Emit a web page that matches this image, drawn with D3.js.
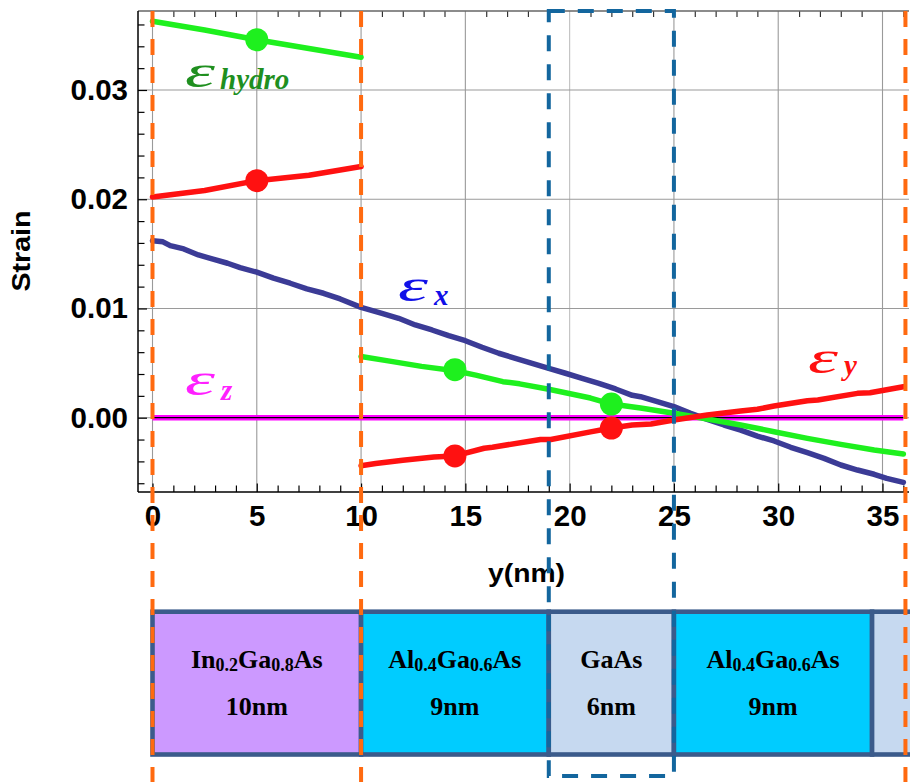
<!DOCTYPE html>
<html><head><meta charset="utf-8">
<script src="https://cdn.jsdelivr.net/npm/d3@7"></script>
<style>
body{margin:0;background:#fff}
svg{display:block}
</style></head>
<body><svg id="chart" width="910" height="782"></svg>
<script>
// ---------------- data ----------------
const xTickValues = [0, 5, 10, 15, 20, 25, 30, 35];
const xTickLabels = ["0", "5", "10", "15", "20", "25", "30", "35"];
const yTickValues = [0, 0.01, 0.02, 0.03];
const yTickLabels = ["0.00", "0.01", "0.02", "0.03"];

const epsX = [[0,0.0162],[0.5,0.0161],[0.85,0.01575],[1.5,0.01545],[2.2,0.0149],[2.9,0.01451],[3.6,0.01414],[4.2,0.01374],[5.0,0.01332],[5.8,0.01277],[6.6,0.01231],[7.4,0.01179],[8.2,0.01139],[9.0,0.01087],[10.0,0.0101],[11.0,0.00956],[11.8,0.0091],[12.6,0.00849],[13.4,0.00803],[14.2,0.00751],[15.0,0.00705],[15.8,0.00645],[16.6,0.0059],[17.4,0.00544],[18.2,0.00498],[19.0,0.00452],[19.8,0.00407],[20.6,0.00361],[21.4,0.00315],[22.2,0.00263],[23.0,0.00205],[23.4,0.00192],[24.2,0.00147],[25.0,0.00101],[25.8,0.0004],[26.6,-0.00015],[27.4,-0.00067],[28.2,-0.00113],[29.0,-0.00168],[29.8,-0.00213],[30.6,-0.00271],[31.4,-0.0032],[32.2,-0.00372],[33.0,-0.00433],[33.8,-0.00479],[34.6,-0.00518],[35.2,-0.00555],[36.0,-0.00592]];

const hydroWell = [[0,0.0363],[2.5,0.0355],[5,0.0346],[7.5,0.0338],[10,0.0330]];
const hydroBarrier = [[10,0.0056],[11.3,0.0052],[12.9,0.0047],[14.5,0.0043],[15.5,0.0039],[16.8,0.0033],[17.6,0.0031],[19.0,0.0026],[21.0,0.0018],[22.0,0.00125],[23.4,0.00088],[25.0,0.0004],[26.4,-0.00005],[28.2,-0.00067],[29.8,-0.00128],[31.4,-0.00189],[33.0,-0.00244],[34.6,-0.00296],[36,-0.00333]];

const epsYWell = [[0,0.0202],[2.5,0.0208],[5,0.0217],[7.5,0.0222],[10,0.0230]];
const epsYBarrier = [[10,-0.0044],[10.7,-0.0042],[12.0,-0.0039],[13.5,-0.0036],[14.5,-0.0035],[15.9,-0.0028],[16.3,-0.0027],[18.6,-0.0020],[19.1,-0.0020],[21.0,-0.0013],[22.0,-0.00095],[23.0,-0.00067],[23.9,-0.00058],[25.0,-0.00021],[26.6,0.00025],[28.2,0.00061],[29.0,0.00077],[29.8,0.00107],[31.4,0.00156],[31.9,0.00162],[33.8,0.00223],[34.4,0.00229],[36,0.00284]];

const epsZ = [[0,0],[36,0]];

const hydroMarkers = [[5,0.0346],[14.5,0.0044],[22,0.00125]];
const epsYMarkers = [[5,0.0217],[14.5,-0.0035],[22,-0.00095]];

const interfaceLines = [0, 10, 36.1];
const wellWindow = [19, 25];

const layerBounds = [0, 10, 19, 25, 34.5, 37.5];
const layerFormulas = [
  [["In",0],["0.2",1],["Ga",0],["0.8",1],["As",0]],
  [["Al",0],["0.4",1],["Ga",0],["0.6",1],["As",0]],
  [["GaAs",0]],
  [["Al",0],["0.4",1],["Ga",0],["0.6",1],["As",0]],
  []
];
const layerThickness = ["10nm", "9nm", "6nm", "9nm", ""];
const layerKinds = ["InGaAs", "AlGaAs", "GaAs", "AlGaAs", "GaAs"];

// ---------------- styles ----------------
const layerFill = {InGaAs: "#cc99ff", AlGaAs: "#00ccff", GaAs: "#c6d9f0"};
const sans = "'Liberation Sans', Arial, Helvetica, sans-serif";
const serif = "'Liberation Serif', 'Times New Roman', serif";

// ---------------- layout ----------------
const svg = d3.select("#chart");
const L = 138, R = 909, T = 11, B = 492;
const x = d3.scaleLinear().domain([0, 35]).range([152.5, 882.5]);
const y = d3.scaleLinear().domain([0, 0.03]).range([417.7, 90]);

// grid
const grid = svg.append("g");
grid.selectAll("line.v").data(xTickValues).join("line").attr("class","v")
  .attr("x1", d => x(d)).attr("x2", d => x(d)).attr("y1", T).attr("y2", B)
  .attr("stroke", d => d === 20 ? "#c0c0c0" : "#9a9a9a").attr("stroke-width", 1.1);
grid.selectAll("line.h").data(yTickValues).join("line").attr("class","h")
  .attr("x1", L).attr("x2", R).attr("y1", d => y(d)).attr("y2", d => y(d))
  .attr("stroke", "#9a9a9a").attr("stroke-width", 1.1);

const line = d3.line().x(d => x(d[0])).y(d => y(d[1]));

// eps_z
svg.append("path").datum(epsZ).attr("d", line).attr("fill","none")
  .attr("stroke","#ff00ff").attr("stroke-width",5.5);
svg.append("path").datum(epsZ).attr("d", line).attr("fill","none")
  .attr("stroke","#000").attr("stroke-width",1.2);

function curve(data, color){
  svg.append("path").datum(data).attr("d", line).attr("fill","none")
    .attr("stroke", color).attr("stroke-width", 5.5)
    .attr("stroke-linejoin","round").attr("stroke-linecap","round");
}
curve(epsX, "#3b3b96");
curve(hydroWell, "#1ef01e");
curve(hydroBarrier, "#1ef01e");
curve(epsYWell, "#ff1111");
curve(epsYBarrier, "#ff1111");

svg.append("g").selectAll("circle").data(hydroMarkers).join("circle")
  .attr("cx", d => x(d[0])).attr("cy", d => y(d[1])).attr("r", 11.5).attr("fill", "#1ef01e");
svg.append("g").selectAll("circle").data(epsYMarkers).join("circle")
  .attr("cx", d => x(d[0])).attr("cy", d => y(d[1])).attr("r", 11.5).attr("fill", "#ff1111");

// axes
function styleAxis(g){
  g.select(".domain").remove();
  g.attr("font-family", sans).attr("font-weight", "bold").attr("font-size", 29.5);
  g.selectAll(".tick line").attr("stroke", "#000").attr("stroke-width", 1.2);
}
const gLeft = svg.append("g").attr("transform", `translate(${L},0)`)
  .call(d3.axisLeft(y).tickValues(yTickValues).tickFormat((d,i) => yTickLabels[i])
    .tickSizeInner(-9).tickSizeOuter(0).tickPadding(10));
styleAxis(gLeft);
const yMinor = d3.range(-3, 19).filter(i => i % 5 !== 0).map(i => i * 0.002);
const gLeftMinor = svg.append("g").attr("transform", `translate(${L},0)`)
  .call(d3.axisLeft(y).tickValues(yMinor).tickFormat("").tickSizeInner(-6.5).tickSizeOuter(0));
styleAxis(gLeftMinor);

const gBottom = svg.append("g").attr("transform", `translate(0,${B})`)
  .call(d3.axisBottom(x).tickValues(xTickValues).tickFormat((d,i) => xTickLabels[i])
    .tickSizeInner(-8.5).tickSizeOuter(0).tickPadding(13));
styleAxis(gBottom);
const xMinor = d3.range(0, 37).filter(i => i % 5 !== 0);
const gBottomMinor = svg.append("g").attr("transform", `translate(0,${B})`)
  .call(d3.axisBottom(x).tickValues(xMinor).tickFormat("").tickSizeInner(-6.5).tickSizeOuter(0));
styleAxis(gBottomMinor);
const gTop = svg.append("g").attr("transform", `translate(0,${T})`)
  .call(d3.axisTop(x).tickValues(xMinor).tickFormat("").tickSizeInner(-6).tickSizeOuter(0));
styleAxis(gTop);
gTop.selectAll(".tick line").attr("stroke", "#333");

svg.append("line").attr("x1", L).attr("x2", R).attr("y1", T).attr("y2", T)
  .attr("stroke", "#666").attr("stroke-width", 1.5);
svg.append("line").attr("x1", L).attr("x2", L).attr("y1", T).attr("y2", B)
  .attr("stroke", "#000").attr("stroke-width", 1.5);
svg.append("line").attr("x1", L).attr("x2", R).attr("y1", B).attr("y2", B)
  .attr("stroke", "#000").attr("stroke-width", 1.5);

// axis titles
svg.append("text").attr("transform", "translate(29.5,251) rotate(-90)")
  .attr("text-anchor", "middle").attr("font-family", sans).attr("font-weight", "bold")
  .attr("font-size", 25.5).attr("textLength", 81).attr("lengthAdjust", "spacingAndGlyphs").text("Strain");
svg.append("text").attr("x", 526.5).attr("y", 582)
  .attr("text-anchor", "middle").attr("font-family", sans).attr("font-weight", "bold")
  .attr("font-size", 26).attr("textLength", 77).attr("lengthAdjust", "spacingAndGlyphs").text("y(nm)");

// layer boxes
const layers = layerKinds.map((k, i) => ({kind: k, x0: layerBounds[i], x1: layerBounds[i+1],
  formula: layerFormulas[i], thick: layerThickness[i]}));
const boxTop = 611.7, boxBottom = 754.5;
svg.append("g").selectAll("rect").data(layers).join("rect")
  .attr("x", d => x(d.x0)).attr("y", boxTop)
  .attr("width", d => x(d.x1) - x(d.x0)).attr("height", boxBottom - boxTop)
  .attr("fill", d => layerFill[d.kind]).attr("stroke", "#3b5b8b").attr("stroke-width", 4.6);

const lt = svg.append("g").attr("font-family", serif).attr("font-weight", "bold").attr("fill", "#000");
layers.forEach(d => {
  const cx = (x(d.x0) + x(d.x1)) / 2;
  if (d.formula.length) {
    const t = lt.append("text").attr("x", cx).attr("y", 668).attr("text-anchor", "middle").attr("font-size", 26);
    let shifted = false;
    d.formula.forEach(([s, sub]) => {
      const sp = t.append("tspan").text(s);
      if (sub && !shifted) { sp.attr("dy", 3).attr("font-size", 18); shifted = true; }
      else if (sub) { sp.attr("font-size", 18); }
      else if (!sub && shifted) { sp.attr("dy", -3); shifted = false; }
    });
  }
  if (d.thick) {
    lt.append("text").attr("x", cx).attr("y", 715).attr("text-anchor", "middle")
      .attr("font-size", 26).text(d.thick);
  }
});

// dashed interface lines
svg.append("g").selectAll("line").data(interfaceLines).join("line")
  .attr("x1", d => x(d)).attr("x2", d => x(d)).attr("y1", T).attr("y2", 782)
  .attr("stroke", "#ff6a10").attr("stroke-width", 4).attr("stroke-dasharray", "16,12");

// well window
svg.append("rect").attr("x", x(wellWindow[0])).attr("y", T)
  .attr("width", x(wellWindow[1]) - x(wellWindow[0])).attr("height", 776 - T)
  .attr("fill", "none").attr("stroke", "#13669e").attr("stroke-width", 4)
  .attr("stroke-dasharray", "16,13");

// curve labels
function epsLabel(px, py, sub, color, subDx, subDy){
  svg.append("text").attr("x", px).attr("y", py).attr("font-family", serif)
    .attr("font-style", "italic").attr("font-size", 46).attr("fill", color)
    .attr("textLength", 30).attr("lengthAdjust", "spacingAndGlyphs").text("ε");
  svg.append("text").attr("x", px + subDx).attr("y", py + subDy).attr("font-family", serif)
    .attr("font-style", "italic").attr("font-weight", "bold").attr("font-size", 29)
    .attr("fill", color).text(sub);
}
epsLabel(185, 87, "hydro", "#1f8f1f", 35, 2);
epsLabel(398, 301, "x", "#1010e8", 36, 4);
epsLabel(808, 373, "y", "#ff1010", 36, 2);
epsLabel(185, 395, "z", "#ff20ff", 36, 5);
</script>
</body></html>
